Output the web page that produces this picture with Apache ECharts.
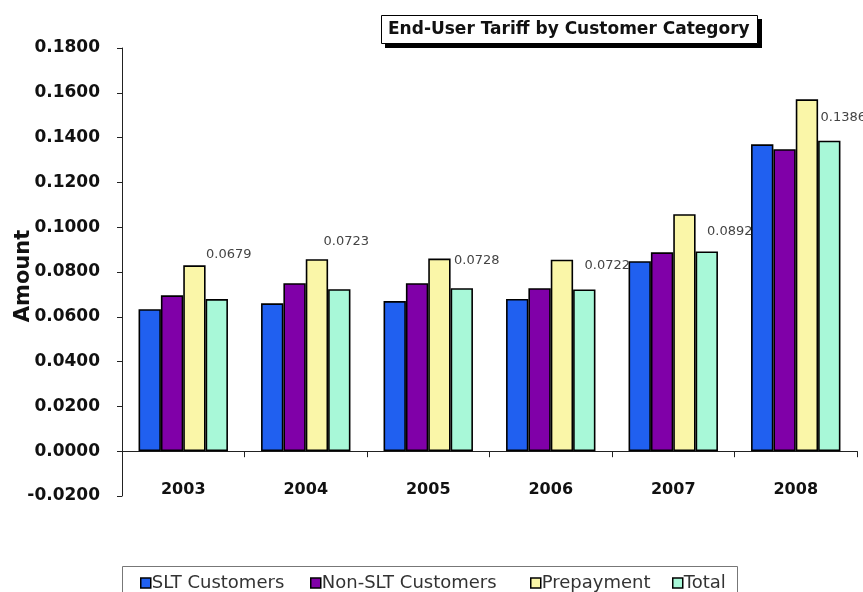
<!DOCTYPE html>
<html>
<head>
<meta charset="utf-8">
<script src="https://cdn.jsdelivr.net/npm/echarts@6/dist/echarts.min.js"></script>
<style>
  html, body { margin: 0; padding: 0; background: #fff; }
  #chart { width: 863px; height: 592px; }
</style>
</head>
<body>
<div id="chart"></div>
<script>
// Tariff per year, by customer category
const years = ['2003', '2004', '2005', '2006', '2007', '2008'];
const sltCustomers = [0.0634, 0.0660, 0.0670, 0.0680, 0.0848, 0.1370];
const nonSltCustomers = [0.0696, 0.0750, 0.0750, 0.0728, 0.0888, 0.1348];
const prepayment = [0.0830, 0.0857, 0.0860, 0.0855, 0.1058, 0.1571];
const total = [0.0679, 0.0723, 0.0728, 0.0722, 0.0892, 0.1386];
const yTicks = { min: -0.02, max: 0.18, step: 0.02 };

// where each Total value label sits relative to its bar top
const totalLabelShift = [[12, -38], [7, -41], [15, -21], [23, -17], [23, -13], [14, -17]];

const chart = echarts.init(document.getElementById('chart'));
const font = '"DejaVu Sans", Verdana, sans-serif';

function barSeries(name, values, color) {
  return {
    name: name,
    type: 'bar',
    data: values,
    barGap: '0%',
    barCategoryGap: '27%',
    itemStyle: { color: color, borderColor: '#000', borderWidth: 1.6 },
    emphasis: { disabled: true }
  };
}

const totalSeries = barSeries('Total', total.map(function (v, i) {
  return {
    value: v,
    label: { offset: totalLabelShift[i] }
  };
}), '#A8F8D8');
totalSeries.label = {
  show: true,
  position: 'top',
  distance: 0,
  color: '#444',
  fontFamily: font,
  fontSize: 13,
  formatter: function (p) { return p.value.toFixed(4); }
};

const seriesNames = ['SLT Customers', 'Non-SLT Customers', 'Prepayment', 'Total'];
// left edge of each legend swatch
const legendLefts = [140, 310, 530, 672];

const legends = seriesNames.map(function (n, i) {
  return {
    data: [n],
    left: legendLefts[i],
    top: 574,
    padding: 0,
    itemWidth: 10,
    itemHeight: 10,
    icon: 'rect',
    itemStyle: { borderColor: '#000', borderWidth: 1.5 },
    textStyle: { fontFamily: font, fontSize: 18, color: '#333', padding: [0, 0, 0, -4] }
  };
});

chart.setOption({
  animation: false,
  backgroundColor: '#fff',
  title: {
    text: 'End-User Tariff by Customer Category',
    left: 381,
    top: 15,
    padding: [6, 8, 6, 7],
    backgroundColor: '#fff',
    borderColor: '#000',
    borderWidth: 1,
    z: 10,
    textStyle: { fontFamily: font, fontWeight: 'bold', fontSize: 17, color: '#111' }
  },
  graphic: [
    // drop shadow under the title box
    {
      type: 'rect',
      left: 385,
      top: 19,
      shape: { width: 377, height: 29 },
      style: { fill: '#000' },
      z: 0
    },
    // frame around the legend row
    {
      type: 'rect',
      left: 122,
      top: 566,
      shape: { width: 615, height: 40 },
      style: { fill: '#fff', stroke: '#777', lineWidth: 1 },
      z: 0
    }
  ],
  legend: legends,
  grid: { left: 122, right: 6, top: 48, bottom: 96, containLabel: false, outerBoundsMode: 'none' },
  xAxis: {
    type: 'category',
    data: years,
    axisLine: { onZero: true, lineStyle: { color: '#222', width: 1 } },
    axisTick: { show: true, length: 6, lineStyle: { color: '#222' } },
    axisLabel: { margin: -14, fontFamily: font, fontWeight: 'bold', fontSize: 16, color: '#111' }
  },
  yAxis: {
    type: 'value',
    min: yTicks.min,
    max: yTicks.max,
    interval: yTicks.step,
    name: 'Amount',
    nameLocation: 'middle',
    nameGap: 88,
    nameMoveOverlap: false,
    nameRotate: 90,
    nameTextStyle: { fontFamily: font, fontWeight: 'bold', fontSize: 21, color: '#111', padding: [0, 8, 0, 0] },
    axisLine: { show: true, lineStyle: { color: '#222', width: 1 } },
    axisTick: { show: true, length: 5, lineStyle: { color: '#222' } },
    splitLine: { show: false },
    axisLabel: {
      margin: 22,
      fontFamily: font,
      fontWeight: 'bold',
      fontSize: 17,
      color: '#111',
      formatter: function (v) { return v.toFixed(4); }
    }
  },
  series: [
    barSeries(seriesNames[0], sltCustomers, '#2060F0'),
    barSeries(seriesNames[1], nonSltCustomers, '#8000A8'),
    barSeries(seriesNames[2], prepayment, '#FAF6A8'),
    totalSeries
  ]
});
</script>
</body>
</html>
